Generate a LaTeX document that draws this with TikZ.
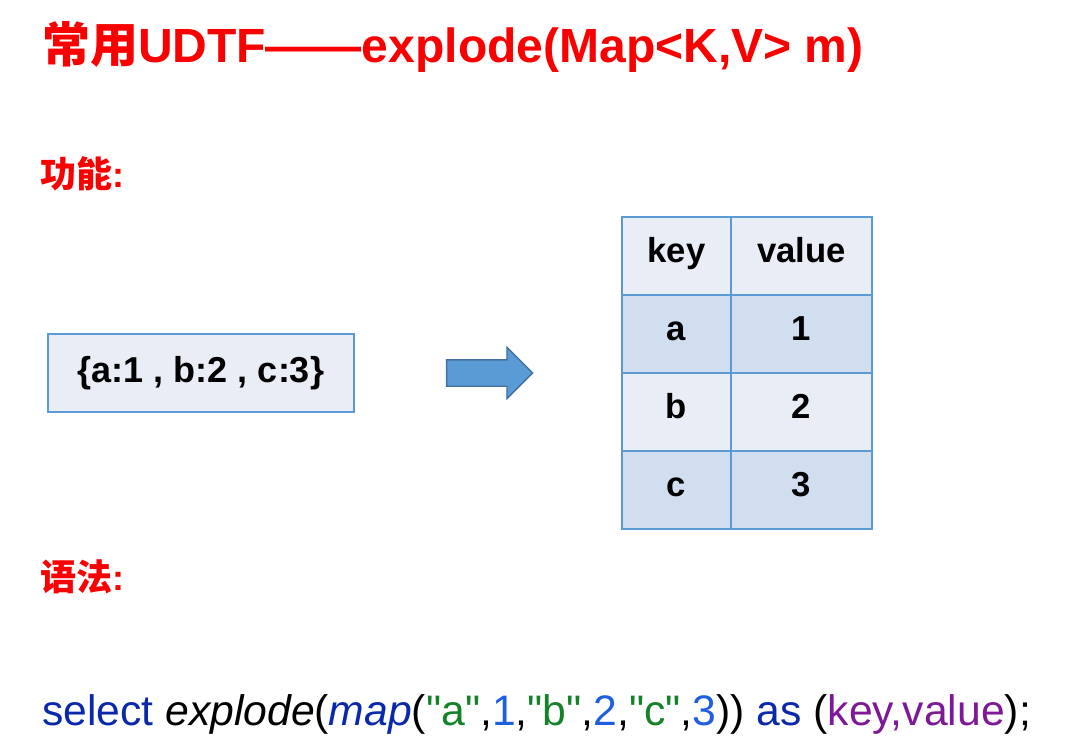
\documentclass[tikz,border=0pt]{standalone}
\usepackage{fontspec}
\setmainfont{Liberation Sans}
\newfontfamily\cjk{Noto Sans CJK SC}
\newfontfamily\codefont[Ligatures=TeXOff]{Liberation Sans}
\usepackage{xcolor}
\usetikzlibrary{shapes.arrows}

\definecolor{titlered}{RGB}{250,0,0}
\definecolor{edgeblue}{RGB}{91,155,213}
\definecolor{arrowedge}{RGB}{65,113,156}
\definecolor{cellpale}{RGB}{233,237,246}
\definecolor{celldark}{RGB}{208,222,239}
\definecolor{kwblue}{RGB}{10,40,170}
\definecolor{numblue}{RGB}{30,95,225}
\definecolor{strgreen}{RGB}{20,130,40}
\definecolor{idpurple}{RGB}{125,25,150}

\tikzset{
  heading/.style={anchor=base west, text=titlered, font=\bfseries},
  cell/.style={draw=edgeblue, line width=1.5pt, minimum width=81.75pt, minimum height=58.5pt,
               text height=18.6pt, text depth=9pt, font=\fontsize{26}{30}\selectfont\bfseries},
}

\begin{document}
\begin{tikzpicture}[x=0.75pt, y=-0.75pt, every node/.style={inner sep=0pt, outer sep=0pt}]
    \useasboundingbox (0,0) rectangle (1077,756);
    % title and section heads
    \node[heading, font=\fontsize{36}{40}\selectfont\bfseries] (title) at (42,63) {{\cjk 常用}UDTF——explode(Map<K,V> m)};
    \node[heading, font=\fontsize{27}{30}\selectfont\bfseries] (func) at (40,187) {{\cjk 功能}:};
    \node[heading, font=\fontsize{27}{30}\selectfont\bfseries] (syn) at (40,590) {{\cjk 语法}:};
    % input map
    \node[draw=edgeblue, line width=1.5pt, fill=cellpale, minimum width=229.5pt, minimum height=58.5pt,
          font=\fontsize{27}{30}\selectfont\bfseries] (input) at (201,373) {\{a:1 , b:2 , c:3\}};
    \node[single arrow, draw=arrowedge, line width=1pt, fill=edgeblue, inner sep=9.375pt,
          minimum height=64.5pt, single arrow head extend=9.375pt] (arrow) at (483,373) {};
    % output table
    \foreach \r/\k/\v/\c in {0/key/value/cellpale, 1/a/1/celldark, 2/b/2/cellpale, 3/c/3/celldark} {
        \node[cell, fill=\c] (key\r) at (676.5,{256+78*\r}) {\k};
        \node[cell, fill=\c, minimum width=105.75pt] (val\r) at (801.5,{256+78*\r}) {\v};
    }
    % syntax line
    \node[anchor=base west, font=\codefont\fontsize{32}{36}\selectfont] (code) at (42,725)
        {\textcolor{kwblue}{select} \textit{explode}(\textcolor{kwblue}{\textit{map}}(\textcolor{strgreen}{"a"},\textcolor{numblue}{1},\textcolor{strgreen}{"b"},\textcolor{numblue}{2},\textcolor{strgreen}{"c"},\textcolor{numblue}{3})) \textcolor{kwblue}{as} (\textcolor{idpurple}{key,value});};
\end{tikzpicture}
\end{document}
